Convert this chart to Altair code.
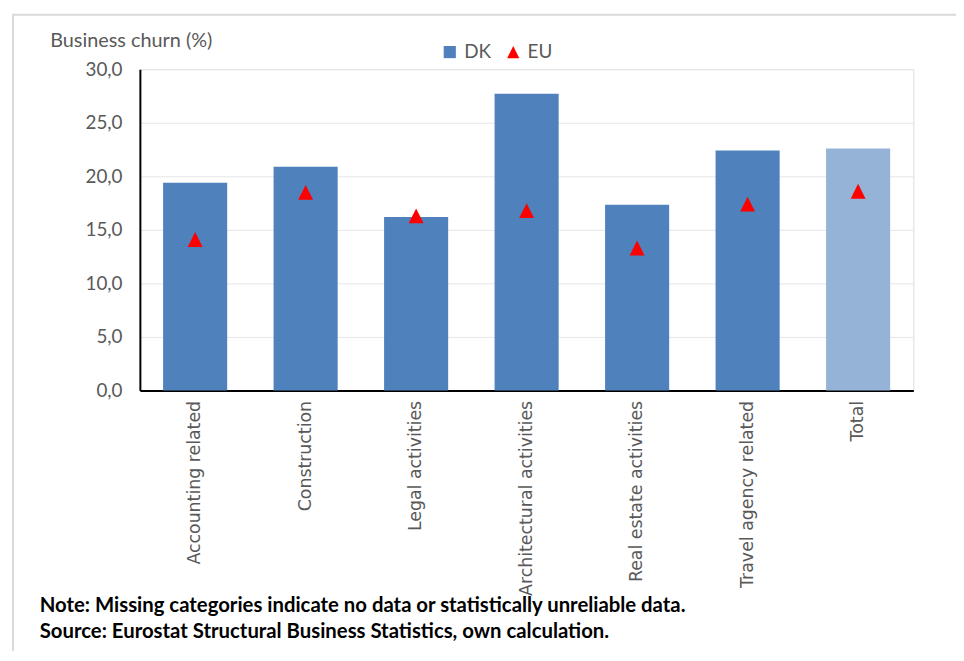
import altair as alt
import pandas as pd

categories = ["Accounting related", "Construction", "Legal activities",
              "Architectural activities", "Real estate activities",
              "Travel agency related", "Total"]
dk_values = [19.4, 20.9, 16.2, 27.7, 17.35, 22.4, 22.6]
eu_values = [14.1, 18.5, 16.3, 16.8, 13.3, 17.4, 18.6]
y_ticks = [0, 5, 10, 15, 20, 25, 30]
notes = ["Note: Missing categories indicate no data or statistically unreliable data.",
         "Source: Eurostat Structural Business Statistics, own calculation."]

bars_df = pd.DataFrame({"category": categories, "value": dk_values})
pts_df = pd.DataFrame({"category": categories, "value": eu_values, "series": ["EU"] * len(categories)})
notes_df = pd.DataFrame({"text": notes, "row": [0, 1]})

W, H = 780, 324
FONT = "Lato"
GREY = "#595959"

x_enc = alt.X("category:N", sort=categories,
              scale=alt.Scale(paddingInner=0.42, paddingOuter=0.21),
              axis=alt.Axis(title=None, labelAngle=-90, labelFont="DejaVu Sans",
                            labelFontSize=17.5, labelColor=GREY, labelPadding=10,
                            ticks=False, domainColor="black", domainWidth=2,
                            labelLimit=400))

y_enc = alt.Y("value:Q", scale=alt.Scale(domain=[0, 30], nice=False),
              axis=alt.Axis(values=y_ticks,
                            labelExpr="replace(format(datum.value, '.1f'), '.', ',')",
                            labelFont=FONT, labelFontSize=19, labelColor=GREY,
                            labelPadding=18, ticks=False, domainColor="black",
                            domainWidth=2, gridColor="#e6e6e6", gridWidth=1,
                            title="Business churn (%)", titleAngle=0,
                            titleX=-91, titleY=-29, titleAlign="left",
                            titleBaseline="middle", titleFont=FONT,
                            titleFontSize=20, titleFontWeight="normal",
                            titleColor=GREY))

bars = alt.Chart(bars_df).mark_bar().encode(
    x=x_enc,
    y=y_enc,
    color=alt.condition(alt.datum.category == "Total",
                        alt.value("#95b3d7"), alt.value("#4f81bd")),
)

tri = "M0,-1L-1,1L1,1Z"
leg = alt.Legend(title=None, orient="none", legendX=303, legendY=-27,
                 direction="horizontal", labelFont=FONT, labelFontSize=19,
                 labelColor=GREY, symbolSize=150, columnPadding=12,
                 labelOffset=5, symbolStrokeWidth=0)
points = alt.Chart(pts_df).mark_point(filled=True, opacity=1, size=225).encode(
    x=alt.X("category:N", sort=categories),
    y=alt.Y("value:Q"),
    color=alt.Color("series:N",
                    scale=alt.Scale(domain=["DK", "EU"], range=["#4f81bd", "#ff0000"]),
                    legend=leg),
    shape=alt.Shape("series:N",
                    scale=alt.Scale(domain=["DK", "EU"], range=["square", tri]),
                    legend=leg),
)

border = alt.Chart(pd.DataFrame({"a": [0]})).mark_rect(
    fill=None, stroke="#d9d9d9", strokeWidth=2
).encode(x=alt.value(-128), x2=alt.value(900), y=alt.value(-55), y2=alt.value(700))

note1 = alt.Chart(notes_df[notes_df.row == 0]).mark_text(
    align="left", baseline="middle", font=FONT, fontSize=20.5,
    fontWeight="bold", color="black"
).encode(text="text:N", x=alt.value(-101), y=alt.value(541))

note2 = alt.Chart(notes_df[notes_df.row == 1]).mark_text(
    align="left", baseline="middle", font=FONT, fontSize=20.5,
    fontWeight="bold", color="black"
).encode(text="text:N", x=alt.value(-101), y=alt.value(568))

chart = alt.layer(border, bars, points, note1, note2).properties(
    width=W, height=H,
    autosize=alt.AutoSizeParams(type="none"),
    padding={"left": 133, "top": 59, "right": 43, "bottom": 260},
).configure_view(stroke=None).configure(background="white")

chart.save("out.html", embed_options={"renderer": "svg", "actions": False})
